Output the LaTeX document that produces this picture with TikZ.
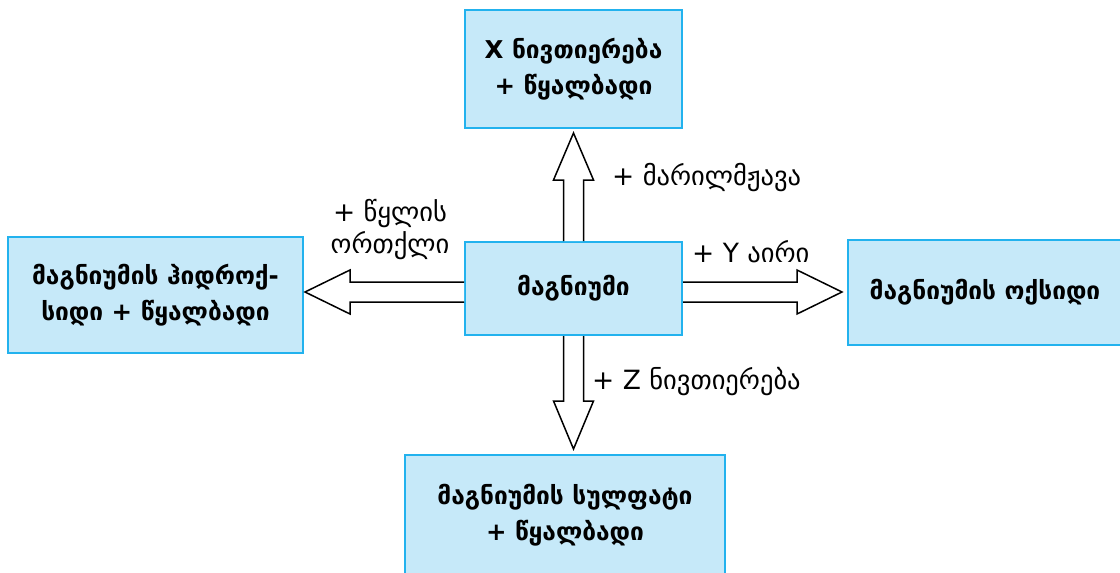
\documentclass[tikz,border=0pt]{standalone}
\usepackage{fontspec}
\setmainfont{DejaVu Sans}
\usetikzlibrary{calc}
\definecolor{boxfill}{HTML}{C6E9F9}
\definecolor{boxline}{HTML}{22B2EE}
\begin{document}
\begin{tikzpicture}[x=1pt,y=-1pt,
  box/.style={draw=boxline, fill=boxfill, line width=2pt, align=center, inner sep=0pt,
    font=\fontsize{24.5}{36}\selectfont\bfseries},
  blockarrow/.style={draw=black, fill=white, line width=1.5pt, line join=miter},
  lbl/.style={font=\fontsize{26.5}{32}\selectfont, align=center, inner sep=0pt}]
\useasboundingbox (0,0) rectangle (1120,573);
% boxes
\node[box, minimum width=217, minimum height=118] (T) at (573.5,69) {X ნივთიერება\\+ წყალბადი};
\node[box, minimum width=217, minimum height=93] (C) at (573.5,288.5) {მაგნიუმი};
\node[box, minimum width=295, minimum height=116] (L) at (155.5,295) {მაგნიუმის ჰიდროქ-\\სიდი + წყალბადი};
\node[box, minimum width=274, minimum height=105] (R) at (985,292.5) {მაგნიუმის ოქსიდი};
\node[box, minimum width=320, minimum height=120] (B) at (565,515) {მაგნიუმის სულფატი\\+ წყალბადი};
% block arrows
\draw[blockarrow] ($(C.north)+(-10,0)$) |- ($(C.north |- T.south)+(-20,51)$)
  -- ($(C.north |- T.south)+(0,4)$) -- ($(C.north |- T.south)+(20,51)$) -| ($(C.north)+(10,0)$);
\draw[blockarrow] ($(C.south)+(-10,0)$) |- ($(C.south |- B.north)+(-20,-53)$)
  -- ($(C.south |- B.north)+(0,-5)$) -- ($(C.south |- B.north)+(20,-53)$) -| ($(C.south)+(10,0)$);
\draw[blockarrow] ($(C.east)+(0,-6.5)$) -| ($(R.west |- C.east)+(-50,-18.5)$)
  -- ($(R.west |- C.east)+(-5,3.5)$) -- ($(R.west |- C.east)+(-50,25.5)$) |- ($(C.east)+(0,13.5)$);
\draw[blockarrow] ($(C.west)+(0,-6.5)$) -| ($(L.east |- C.west)+(46,-18.5)$)
  -- ($(L.east |- C.west)+(1,3.5)$) -- ($(L.east |- C.west)+(46,25.5)$) |- ($(C.west)+(0,13.5)$);
% labels
\node[lbl, anchor=west] (lu) at (612,178) {+ მარილმჟავა};
\node[lbl, anchor=west] (lr) at (692,252) {+ Y აირი};
\node[lbl] (ll) at (390,230) {+ წყლის\\ორთქლი};
\node[lbl, anchor=west] (ld) at (592,382) {+ Z ნივთიერება};
\end{tikzpicture}
\end{document}
